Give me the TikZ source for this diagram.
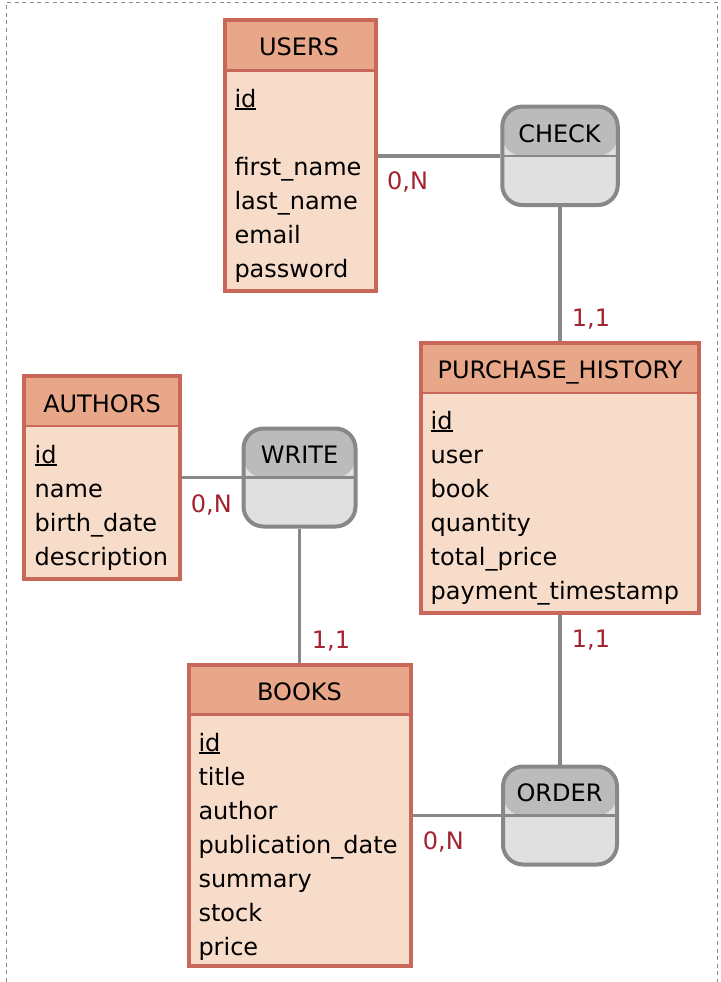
\documentclass[tikz,border=0pt]{standalone}
\usepackage{fontspec}
\setmainfont{DejaVu Sans}
\definecolor{entborder}{HTML}{C8675A}
\definecolor{enthead}{HTML}{E8A788}
\definecolor{entbody}{HTML}{F8DCCA}
\definecolor{relborder}{HTML}{888888}
\definecolor{relhead}{HTML}{BBBBBB}
\definecolor{relbody}{HTML}{E0E0E0}
\definecolor{cardred}{HTML}{A3232E}
\definecolor{frame}{HTML}{8A8A8A}
\newcommand\ulkey[1]{\setbox0\hbox{#1}\rlap{\rule[-3.4pt]{\wd0}{2pt}}\box0}
\tikzset{
  entity/.style={draw=entborder, line width=4pt, fill=entbody, inner sep=0pt,
    path picture={
      \fill[enthead] (path picture bounding box.north west) rectangle ([yshift=-50pt]path picture bounding box.north east);
      \draw[entborder, line width=2.5pt] ([yshift=-50pt]path picture bounding box.north west) -- ([yshift=-50pt]path picture bounding box.north east);
    }},
  relation/.style={draw=relborder, line width=4pt, fill=relbody, inner sep=0pt, rounded corners=20pt,
    path picture={
      \fill[relhead] (path picture bounding box.north west) rectangle (path picture bounding box.east);
      \draw[relborder, line width=2.5pt] (path picture bounding box.west) -- (path picture bounding box.east);
    }},
  txt/.style={inner sep=0pt, font=\fontsize{24}{28}\selectfont, text=black},
  field/.style={txt, anchor=base west},
  title/.style={txt, anchor=base},
  card/.style={txt, anchor=base west, text=cardred},
  conn/.style={draw=relborder, line width=3.5pt},
  frameline/.style={draw=frame, line width=1.2pt, dash pattern=on 4pt off 3.6pt},
}
\begin{document}
\begin{tikzpicture}[x=1pt,y=-1pt]
\useasboundingbox (0,0) rectangle (720,982);
\fill[white] (0,0) rectangle (720,982);
\draw[frameline] (6.3,982) -- (6.3,2.3) -- (717.5,2.3) -- (717.5,982);

% entities
\node[entity, minimum width=151pt, minimum height=271pt] (users) at (300,155.8) {};
\node[entity, minimum width=156pt, minimum height=203pt] (authors) at (102,477.5) {};
\node[entity, minimum width=278pt, minimum height=270pt] (ph) at (560,478) {};
\node[entity, minimum width=222pt, minimum height=301.6pt] (books) at (299.5,815.5) {};

% relations
\node[relation, minimum width=115.5pt, minimum height=98.5pt] (check) at (560,155.8) {};
\node[relation, minimum width=112pt, minimum height=98pt] (write) at (299.5,477.5) {};
\node[relation, minimum width=114pt, minimum height=98pt] (order) at (560,815.5) {};

% connectors
\draw[conn] (users.east) -- (check.west);
\draw[conn] (check.south) -- (ph.north);
\draw[conn] (authors.east) -- (write.west);
\draw[conn] (write.south) -- (books.north);
\draw[conn] (ph.south) -- (order.north);
\draw[conn] (books.east) -- (order.west);

% USERS
\node[title] (usersT) at (299,56) {USERS};
\node[field] (u1) at (234.3,107) {\ulkey{id}};
\node[field] (u2) at (234.3,175) {first\_name};
\node[field] (u3) at (234.3,209) {last\_name};
\node[field] (u4) at (234.3,243) {email};
\node[field] (u5) at (234.3,277) {password};

% AUTHORS
\node[title] (authorsT) at (102,412) {AUTHORS};
\node[field] (a1) at (34.5,463) {\ulkey{id}};
\node[field] (a2) at (34.5,497) {name};
\node[field] (a3) at (34.5,531) {birth\_date};
\node[field] (a4) at (34.5,565) {description};

% PURCHASE_HISTORY
\node[title] (phT) at (560,378) {PURCHASE\_HISTORY};
\node[field] (p1) at (430.5,429) {\ulkey{id}};
\node[field] (p2) at (430.5,463) {user};
\node[field] (p3) at (430.5,497) {book};
\node[field] (p4) at (430.5,531) {quantity};
\node[field] (p5) at (430.5,565) {total\_price};
\node[field] (p6) at (430.5,599) {payment\_timestamp};

% BOOKS
\node[title] (booksT) at (299.5,700) {BOOKS};
\node[field] (b1) at (198.3,751) {\ulkey{id}};
\node[field] (b2) at (198.3,785) {title};
\node[field] (b3) at (198.3,819) {author};
\node[field] (b4) at (198.3,853) {publication\_date};
\node[field] (b5) at (198.3,887) {summary};
\node[field] (b6) at (198.3,921) {stock};
\node[field] (b7) at (198.3,955) {price};

% relation titles
\node[title] (checkT) at (559.5,142) {CHECK};
\node[title] (writeT) at (299.5,463.5) {WRITE};
\node[title] (orderT) at (559.5,801) {ORDER};

% cardinalities
\node[card] (c1) at (387,189.5) {0,N};
\node[card] (c2) at (571.7,326) {1,1};
\node[card] (c3) at (190.7,512.7) {0,N};
\node[card] (c4) at (311.7,648.3) {1,1};
\node[card] (c5) at (571.7,647.7) {1,1};
\node[card] (c6) at (422.7,849.3) {0,N};
\end{tikzpicture}
\end{document}
